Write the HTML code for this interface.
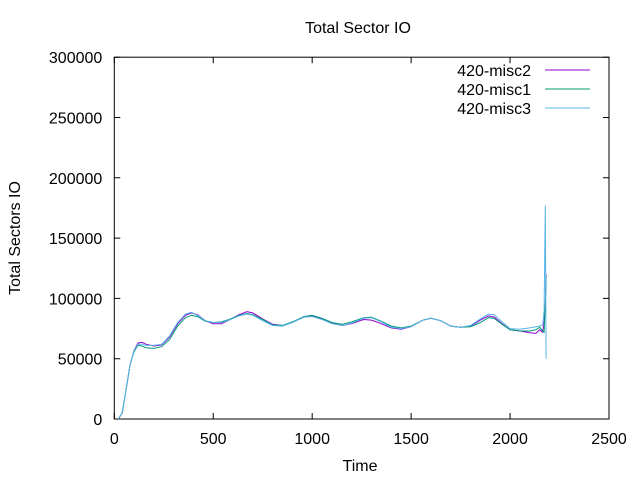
<!DOCTYPE html>
<html><head><meta charset="utf-8"><style>
body{margin:0;background:#fff}
svg{display:block;font-family:"Liberation Sans",sans-serif}
</style></head><body>
<svg id="chart" width="640" height="480" viewBox="0 0 640 480">
<text x="358" y="33" font-size="16" text-anchor="middle">Total Sector IO</text>
<text transform="translate(20,238) rotate(-90)" font-size="16" text-anchor="middle">Total Sectors IO</text>
<text x="360" y="471" font-size="16" text-anchor="middle">Time</text>
<g id="axes"></g>
<g id="series"></g>
<g id="legend"></g>
</svg>
<script>
const xTicks=[0,500,1000,1500,2000,2500];
const yTicks=[0,50000,100000,150000,200000,250000,300000];
const seriesNames=["420-misc2","420-misc1","420-misc3"];
const seriesColors=["#9400d3","#009e73","#56b4e9"];
const timeA=[20,40,60,80,100,120,140,160,200,240,280,320,360,390,420,460,500,540,580,630,670,700,750,800,850,900,960,1000,1050,1100,1150,1200,1260,1300,1350,1400,1450,1500,1560,1600,1650,1700,1750,1800,1850,1890,1920,1960,2000,2050,2100,2130,2150,2165,2172,2178,2182];
const misc2=[0,5000,25000,45000,57000,63000,63500,62000,60500,61500,68000,79000,86000,88000,86500,81500,79000,79000,82000,86500,89000,88000,83000,78500,77500,80000,85000,85500,83000,79500,77500,79000,82500,82000,79000,75500,74500,76500,82000,83500,81500,77000,76000,77000,82000,85500,84500,79000,74000,73000,71500,71000,74000,72000,80000,95000,120000];
const misc1=[0,5000,25000,45000,56000,61000,60500,59000,58500,60000,66000,77000,84000,86000,85000,81000,80000,80500,82500,86000,87500,86500,82500,78000,77500,80500,85000,86000,83500,80000,78500,80500,84000,84500,81000,77000,75500,77000,82000,83500,81500,77000,76000,76500,80000,84000,83500,78500,74000,73000,73000,74000,76000,73000,72000,95000,118000];
const misc3=[0,5000,25000,45000,57000,62000,62000,61000,61000,62000,69000,80000,87000,88500,86000,81500,80000,80000,82000,85500,87000,86000,81500,77500,77000,80000,84500,85000,82500,79000,77500,79500,83500,84000,80500,76000,75000,76500,82000,83500,81500,77000,76000,77500,83000,87000,86500,80500,75000,74500,75500,76500,77000,78000,90000,177000,50000];
const seriesData=[misc2,misc1,misc3];
const X0=114.3,X1=609,Y0=419,Y1=57.2;
function sx(v){return X0+(v-0)/2500*(X1-X0);}
function sy(v){return Y0-(v/300000)*(Y0-Y1);}
const NS="http://www.w3.org/2000/svg";
function mk(tag,attrs,parent){const e=document.createElementNS(NS,tag);for(const k in attrs)e.setAttribute(k,attrs[k]);parent.appendChild(e);return e;}
const axes=document.getElementById('axes');
const frame=mk('rect',{x:X0,y:Y1,width:X1-X0,height:Y0-Y1,fill:'none',stroke:'#000','stroke-width':1},axes);


xTicks.forEach(v=>{
 const x=sx(v);
 const t=mk('path',{d:`M${x},${Y0}v-6M${x},${Y1}v6`,stroke:'#000','stroke-width':1},axes);
 
 
 const l=mk('text',{x:x,y:Y0+25,'font-size':16,'text-anchor':'middle'},axes);l.textContent=v;
 
 
});
yTicks.forEach(v=>{
 const y=sy(v);
 const t=mk('path',{d:`M${X0},${y}h6M${X1},${y}h-6`,stroke:'#000','stroke-width':1},axes);
 
 
 const l=mk('text',{x:X0-12,y:y+6,'font-size':16,'text-anchor':'end'},axes);l.textContent=v;
 
 
});
const sg=document.getElementById('series');
const lg=document.getElementById('legend');
seriesData.forEach((arr,i)=>{
 const d=arr.map((v,j)=>(j?'L':'M')+sx(timeA[j]).toFixed(1)+','+sy(v).toFixed(1)).join('');
 const p=mk('path',{d:d,fill:'none',stroke:seriesColors[i],'stroke-width':1},sg);
 
 
 const ly=70+i*19;
 const lt=mk('text',{x:531,y:ly+6,'font-size':16,'text-anchor':'end'},lg);lt.textContent=seriesNames[i];
 
 
 const ll=mk('path',{d:`M545,${ly}h45`,stroke:seriesColors[i],'stroke-width':1},lg);
 
 
});
</script>
</body></html>
